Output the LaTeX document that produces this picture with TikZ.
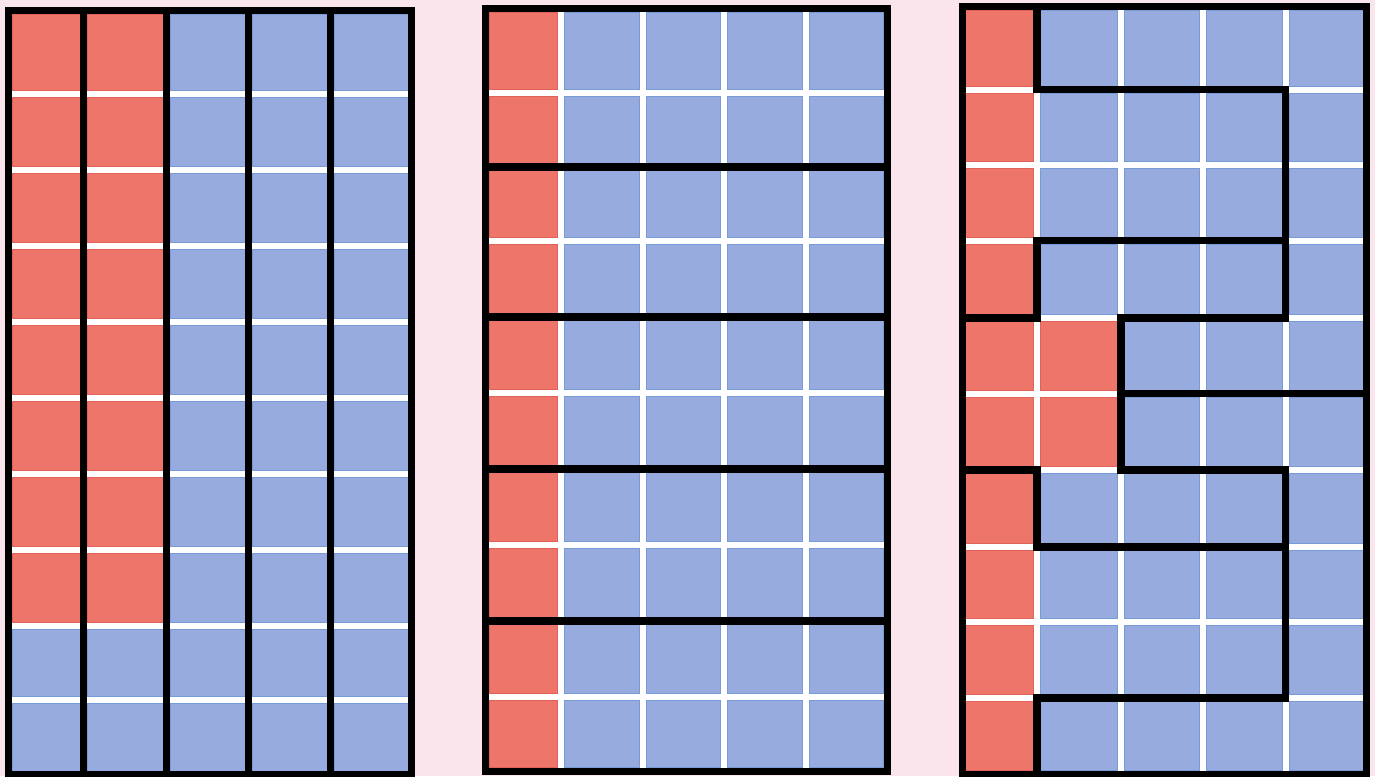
\documentclass[tikz,border=0pt]{standalone}
\usepackage{tikz}
\definecolor{bgpink}{RGB}{251,229,237}
\definecolor{redclr}{RGB}{237,117,106}
\definecolor{blueclr}{RGB}{152,171,223}
\definecolor{redline}{RGB}{226,98,88}
\definecolor{blueline}{RGB}{118,155,214}
\tikzset{
  redcell/.style={fill=redclr,draw=redline,line width=0.5pt},
  bluecell/.style={fill=blueclr,draw=blueline,line width=0.5pt},
  wall/.style={draw=black,line width=7.5pt,line join=miter},
  frame/.style={draw=black,line width=7pt,line join=miter},
}
\newcommand\gridpoints[3]{%
  \foreach \i in {0,...,5}{\foreach \j in {0,...,10}{%
    \pgfmathsetmacro\px{#2[\i]}\pgfmathsetmacro\py{#3[\j]}%
    \coordinate (#1-\i-\j) at (\px,\py);}}}
\newcommand\gridcells[2]{%
  \fill[white] (#1-0-0) rectangle (#1-5-10);
  \foreach \i [evaluate=\i as \ii using int(\i+1)] in {0,...,4}{%
    \foreach \j [evaluate=\j as \jj using int(\j+1)] in {0,...,9}{%
      \pgfmathtruncatemacro\isred{#2}%
      \ifnum\isred=1 \tikzset{cell/.style=redcell}\else\tikzset{cell/.style=bluecell}\fi
      \draw[cell] ([shift={(3.5,3.5)}]#1-\i-\j) rectangle ([shift={(-3.5,-3.5)}]#1-\ii-\jj);}}}

\begin{document}
\begin{tikzpicture}[x=1pt,y=-1pt]
\fill[bgpink] (0,0) rectangle (1375,776);
\useasboundingbox (0,0) rectangle (1375,776);

\gridpoints{a}{{8.5,83.5,166.5,248.5,330.5,411.5}}{{10.5,94,170,246,322,398,474,550,626,700,774.5}}
\gridpoints{b}{{485.5,561,642.5,724,806,887}}{{8.5,92.5,167,241,317,393,469,545,621,697,771}}
\gridpoints{c}{{962,1037,1121,1203,1285.5,1366.5}}{{6.5,89.5,164.5,240.5,318,393.5,470,547,622,698,774}}

% columns as districts
\gridcells{a}{and(\i<2,\j<8)}
\foreach \i in {1,...,4} \draw[wall] (a-\i-0) -- (a-\i-10);
\draw[frame] (a-0-0) rectangle (a-5-10);

% rows as districts
\gridcells{b}{\i==0}
\foreach \j in {2,4,6,8} \draw[wall] (b-0-\j) -- (b-5-\j);
\draw[frame] (b-0-0) rectangle (b-5-10);

% winding districts
\gridcells{c}{or(\i==0,and(\i==1,or(\j==4,\j==5)))}
\draw[wall] (c-1-0) -- (c-1-1) -- (c-4-1) -- (c-4-4) -- (c-2-4) -- (c-2-6)
  -- (c-4-6) -- (c-4-9) -- (c-1-9) -- (c-1-10);
\draw[wall] (c-4-3) -- (c-1-3) -- (c-1-4) -- (c-0-4);
\draw[wall] (c-2-5) -- (c-5-5);
\draw[wall] (c-0-6) -- (c-1-6) -- (c-1-7) -- (c-4-7);
\draw[frame] (c-0-0) rectangle (c-5-10);
\end{tikzpicture}
\end{document}
